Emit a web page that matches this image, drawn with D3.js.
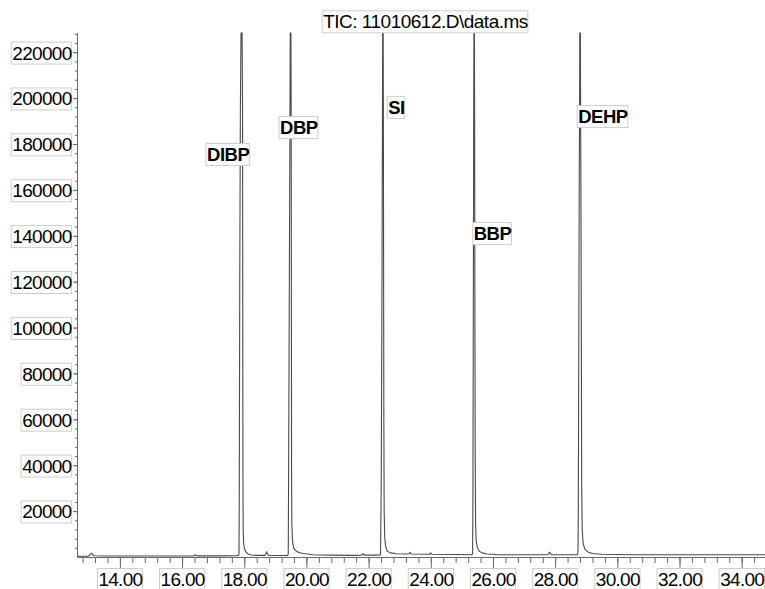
<!DOCTYPE html>
<html>
<head>
<meta charset="utf-8">
<script src="https://cdn.jsdelivr.net/npm/d3@7"></script>
<style>
  html, body { margin: 0; padding: 0; background: #fff; }
  svg { display: block; }
</style>
</head>
<body>
<svg id="chart" width="765" height="589"></svg>
<script>
// Total ion chromatogram: retention time (min) vs. abundance
const chartTitle = "TIC: 11010612.D\\data.ms";

const times = [
  12.62, 12.98, 13.03, 13.07, 13.09, 13.12, 13.17, 13.50, 14.50, 15.50,
  16.38, 16.43, 16.47, 17.20, 17.70, 17.81,
  17.83, 17.838, 17.855, 17.875, 17.915, 17.945, 17.957, 17.965, 17.98, 18.01,
  18.05, 18.12, 18.22, 18.40, 18.66, 18.70, 18.72, 18.74, 18.78, 19.20,
  19.40, 19.415, 19.425, 19.45, 19.47, 19.49, 19.51, 19.522, 19.53, 19.55,
  19.59, 19.65, 19.75, 19.90, 20.20, 20.80, 21.50, 21.78, 21.82, 21.86,
  22.20, 22.37, 22.383, 22.39, 22.405, 22.43, 22.445, 22.46, 22.475, 22.49,
  22.50, 22.52, 22.55, 22.60, 22.70, 22.90, 23.20, 23.30, 23.33, 23.37,
  23.95, 24.00, 24.04, 24.80, 25.33, 25.345, 25.355, 25.37, 25.38, 25.395,
  25.41, 25.42, 25.43, 25.44, 25.46, 25.50, 25.56, 25.65, 25.80, 26.20,
  27.00, 27.75, 27.80, 27.83, 27.87, 28.50, 28.72, 28.735, 28.745, 28.76,
  28.775, 28.79, 28.80, 28.815, 28.83, 28.845, 28.855, 28.87, 28.90, 28.95,
  29.05, 29.20, 29.50, 30.50, 32.00, 34.75
];

const abundances = [
  350, 400, 700, 1500, 1650, 1100, 550, 450, 420, 450,
  480, 1000, 500, 500, 550, 700,
  1200, 20000, 120000, 195000, 260000, 195000, 38000, 12000, 6000, 3500,
  2200, 1300, 900, 700, 700, 1500, 2300, 1500, 700, 650,
  700, 1500, 30000, 120000, 190000, 270000, 190000, 40000, 15000, 7000,
  4000, 2800, 2000, 1500, 1000, 800, 700, 750, 1500, 800,
  800, 900, 1200, 10000, 30000, 120000, 190000, 280000, 190000, 60000,
  20000, 8000, 4500, 2500, 1800, 1400, 1300, 1400, 2000, 1300,
  1200, 1700, 1200, 1100, 1000, 1800, 25000, 120000, 190000, 270000,
  190000, 100000, 40000, 15000, 7000, 4000, 2500, 1800, 1300, 1000,
  950, 950, 1700, 2100, 1000, 950, 1000, 2500, 20000, 90000,
  160000, 210000, 300000, 210000, 160000, 80000, 30000, 12000, 6000, 3500,
  2200, 1500, 1200, 1000, 950, 950
];

// Peak annotations: name, time of the label's left edge, abundance at its middle
const peakNames   = ["DIBP", "DBP", "SI", "BBP", "DEHP"];
const labelTimes  = [16.77, 19.12, 22.60, 25.35, 28.71];
const labelLevels = [175500, 187200, 196000, 141000, 192000];

const xTickLabels = [14, 16, 18, 20, 22, 24, 26, 28, 30, 32, 34];
const yTickLabels = [20000, 40000, 60000, 80000, 100000, 120000, 140000,
                     160000, 180000, 200000, 220000];

const svg = d3.select("#chart");
const plotLeft = 77, plotRight = 765, plotTop = 32.5, plotBottom = 557;

const x = d3.scaleLinear().domain([12.62, 34.75]).range([plotLeft, plotRight]);
const y = d3.scaleLinear().domain([0, 228600]).range([plotBottom, plotTop]);

const axisColor = "#6a6a6a";
const textColor = "#000";
const boxStroke = "#cdcdcd";
const fontFam = "'Liberation Sans', Arial, sans-serif";

// Plot-area clip so off-scale peaks are cut at the top
svg.append("defs").append("clipPath").attr("id", "plotClip")
  .append("rect")
  .attr("x", plotLeft).attr("y", plotTop)
  .attr("width", plotRight - plotLeft).attr("height", plotBottom - plotTop);

// White box with a light frame behind a text element
function frame(textNode, parent) {
  const bb = textNode.getBBox();
  d3.select(parent).insert("rect", () => textNode)
    .attr("x", bb.x - 1)
    .attr("y", bb.y + bb.height / 2 - 11)
    .attr("width", bb.width + 1)
    .attr("height", 22)
    .attr("fill", "#fff")
    .attr("stroke", boxStroke)
    .attr("stroke-width", 1);
}

// ---- Axes ----
const xMinor = d3.range(0, 55).map(i => 12.8 + i * 0.4).filter(v => v <= 34.75);
const yMinor = d3.range(1, 58).map(i => i * 4000).filter(v => v <= 228600);

svg.append("g")
  .attr("transform", `translate(0,${plotBottom})`)
  .attr("color", axisColor)
  .call(d3.axisBottom(x).tickValues(xMinor).tickSize(6).tickSizeOuter(0).tickFormat(""))
  .call(g => g.select(".domain").remove());

const gx = svg.append("g")
  .attr("transform", `translate(0,${plotBottom})`)
  .attr("color", axisColor)
  .call(d3.axisBottom(x).tickValues(xTickLabels).tickSize(11).tickSizeOuter(0)
        .tickPadding(4.5).tickFormat(d3.format(".2f")));

svg.append("g")
  .attr("transform", `translate(${plotLeft},0)`)
  .attr("color", axisColor)
  .call(d3.axisLeft(y).tickValues(yMinor).tickSize(2).tickSizeOuter(0).tickFormat(""))
  .call(g => g.select(".domain").remove());

const gy = svg.append("g")
  .attr("transform", `translate(${plotLeft},0)`)
  .attr("color", axisColor)
  .call(d3.axisLeft(y).tickValues(yTickLabels).tickSize(4).tickSizeOuter(0)
        .tickPadding(1.5).tickFormat(d3.format("d")));

[gx, gy].forEach(g => {
  g.selectAll("text")
    .attr("fill", textColor)
    .style("font-family", fontFam)
    .style("font-size", "19px")
    .style("letter-spacing", "-0.7px");
});
gy.selectAll("text").attr("dy", "0.36em");
gx.selectAll(".tick text").each(function () { frame(this, this.parentNode); });
gy.selectAll(".tick text").each(function () { frame(this, this.parentNode); });

// ---- Trace ----
const line = d3.line()
  .x((d, i) => x(times[i]))
  .y(d => y(d));

svg.append("path")
  .datum(abundances)
  .attr("clip-path", "url(#plotClip)")
  .attr("fill", "none")
  .attr("stroke", "#4a4a4a")
  .attr("stroke-width", 1.1)
  .attr("stroke-linejoin", "round")
  .attr("d", line);

// ---- Peak labels ----
const labels = svg.append("g");
peakNames.forEach((name, i) => {
  const g = labels.append("g");
  const t = g.append("text")
    .attr("x", x(labelTimes[i]) + 1)
    .attr("y", y(labelLevels[i]) + 6.6)
    .attr("fill", "#000")
    .style("font-family", fontFam)
    .style("font-weight", "bold")
    .style("font-size", "18.5px")
    .style("letter-spacing", "-0.5px")
    .text(name);
  frame(t.node(), g.node());
});

// ---- Title ----
const tg = svg.append("g");
const title = tg.append("text")
  .attr("x", 425.5)
  .attr("y", 28.3)
  .attr("text-anchor", "middle")
  .attr("fill", textColor)
  .style("font-family", fontFam)
  .style("font-size", "19px")
  .style("letter-spacing", "-0.5px")
  .text(chartTitle);
frame(title.node(), tg.node());
</script>
</body>
</html>
